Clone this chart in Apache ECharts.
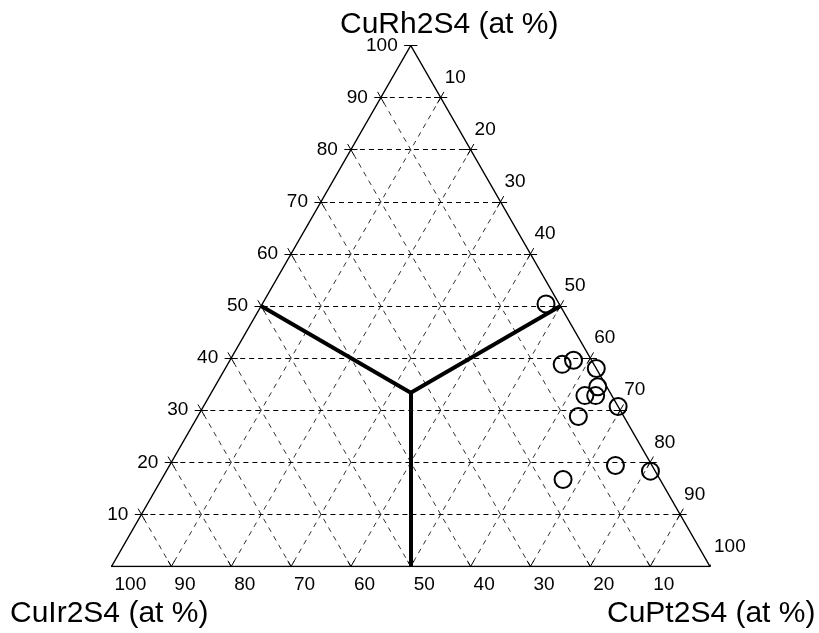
<!DOCTYPE html>
<html><head><meta charset="utf-8">
<script src="https://cdn.jsdelivr.net/npm/echarts@6/dist/echarts.min.js"></script>
<style>html,body{margin:0;padding:0;background:#fff}#chart{width:819px;height:633px}</style>
</head><body><div id="chart"></div>
<script>
// Component names, one per corner of the ternary diagram
const axisNames = ['CuRh2S4 (at %)', 'CuIr2S4 (at %)', 'CuPt2S4 (at %)'];
const tickValues = [10, 20, 30, 40, 50, 60, 70, 80, 90, 100];
// Measured compositions (at %)
const rhVals = [50.4, 38.8, 39.6, 38.0, 34.5, 32.8, 32.8, 30.7, 28.8, 19.4, 18.3, 16.7];
const irVals = [2.2, 5.3, 3.0, 0.0, 1.5, 4.5, 2.7, 0.0, 7.6, 6.1, 0.8, 16.2];
const ptVals = [47.4, 55.9, 57.4, 62.0, 64.0, 62.7, 64.5, 69.3, 63.6, 74.5, 80.9, 67.1];
// Phase boundaries [rh, ir, pt]: from each edge midpoint to the centre
const boundaryStart = [[50, 50, 0], [50, 0, 50], [0, 50, 50]];
const boundaryEnd = [100 / 3, 100 / 3, 100 / 3];

const S3 = Math.sqrt(3) / 2;
// ternary (rh, ir, pt) -> cartesian data coordinates on a base of 100
function toXY(t) { return [t[2] + t[0] / 2, t[0] * S3]; }
function add(p, d, k) { return [p[0] + d[0] * k, p[1] + d[1] * k, p[2] + d[2] * k]; }

const gridH = [], gridD = [], tickSegs = [];
const TK = 1.1;
// each family: labelled-edge point, far-edge point, direction from labelled edge to far edge
const families = [
  { lab: v => [v, 100 - v, 0], far: v => [v, 0, 100 - v], dir: [0, -1, 1], horiz: true },   // Rh
  { lab: v => [0, v, 100 - v], far: v => [100 - v, v, 0], dir: [1, 0, -1], horiz: false },  // Ir
  { lab: v => [100 - v, 0, v], far: v => [0, 100 - v, v], dir: [-1, 1, 0], horiz: false }   // Pt
];
families.forEach(f => {
  tickValues.forEach(v => {
    const a = f.lab(v), b = f.far(v);
    tickSegs.push({ coords: [toXY(add(a, f.dir, -TK)), toXY(add(a, f.dir, TK))] });
    if (v < 100) {
      (f.horiz ? gridH : gridD).push({ coords: [toXY(a), toXY(b)] });
      tickSegs.push({ coords: [toXY(add(b, f.dir, -TK)), toXY(add(b, f.dir, TK))] });
    }
  });
});

const border = [[100, 0, 0], [0, 100, 0], [0, 0, 100], [100, 0, 0]].map(toXY);
const boundaries = boundaryStart.map(p => ({ coords: [toXY(p), toXY(boundaryEnd)] }));
const samples = rhVals.map((r, i) => toXY([r, irVals[i], ptVals[i]]));

const FONT = 'Liberation Sans, Arial, sans-serif';
function labelSeries(pointFn, label) {
  return {
    type: 'scatter', symbolSize: 0, silent: true, z: 5,
    itemStyle: { opacity: 1 },
    data: tickValues.map(v => ({ value: toXY(pointFn(v)), name: String(v) })),
    label: Object.assign({ show: true, formatter: '{b}', color: '#000', fontSize: 19, fontFamily: FONT }, label)
  };
}

const chart = echarts.init(document.getElementById('chart'), null, { renderer: 'canvas' });
chart.setOption({
  backgroundColor: '#fff',
  animation: false,
  grid: { left: 111.5, top: 45.5, width: 598.5, height: 521 },
  xAxis: { type: 'value', min: 0, max: 100, show: false },
  yAxis: { type: 'value', min: 0, max: 100 * S3, show: false },
  graphic: [
    { type: 'text', left: 340, top: 10, style: { text: axisNames[0], fontSize: 30, fontFamily: FONT, fill: '#000' } },
    { type: 'text', left: 10, top: 599, style: { text: axisNames[1], fontSize: 30, fontFamily: FONT, fill: '#000' } },
    { type: 'text', left: 607, top: 599, style: { text: axisNames[2], fontSize: 30, fontFamily: FONT, fill: '#000' } }
  ],
  series: [
    { type: 'lines', coordinateSystem: 'cartesian2d', silent: true, z: 1, data: gridH,
      lineStyle: { color: '#000', width: 1, type: [5, 4], opacity: 1 } },
    { type: 'lines', coordinateSystem: 'cartesian2d', silent: true, z: 1, data: gridD,
      lineStyle: { color: '#000', width: 0.8, type: [5, 5], opacity: 1 } },
    { type: 'lines', coordinateSystem: 'cartesian2d', silent: true, z: 2, data: tickSegs,
      lineStyle: { color: '#000', width: 1, opacity: 1 } },
    { type: 'line', data: border, symbol: 'none', silent: true, z: 3,
      lineStyle: { color: '#000', width: 1.5 } },
    { type: 'lines', coordinateSystem: 'cartesian2d', silent: true, z: 4, data: boundaries,
      lineStyle: { color: '#000', width: 4, opacity: 1, cap: 'butt' } },
    { type: 'scatter', data: samples, symbol: 'circle', symbolSize: 17, z: 6,
      itemStyle: { color: 'rgba(0,0,0,0)', borderColor: '#000', borderWidth: 2, opacity: 1 } },
    labelSeries(v => [v, 100 - v, 0], { position: 'left', distance: 13, align: 'right', verticalAlign: 'middle' }),
    labelSeries(v => [0, v, 100 - v], { position: [3, 18], align: 'left', verticalAlign: 'middle' }),
    labelSeries(v => [100 - v, 0, v], { position: [4, -20], align: 'left', verticalAlign: 'middle' })
  ]
});
</script>
</body></html>
